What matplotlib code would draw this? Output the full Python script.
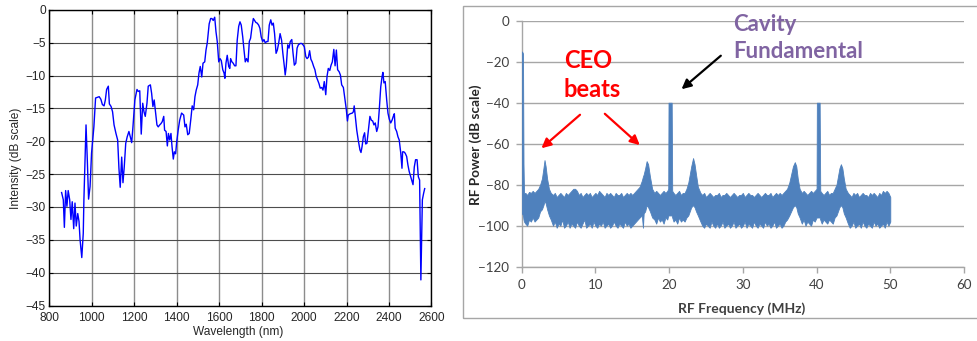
import matplotlib
matplotlib.use("Agg")
import matplotlib.pyplot as plt
from matplotlib.patches import Rectangle

# ---------------- optical spectrum (left) ----------------
wavelength_nm = [
    858, 866, 871, 877, 883, 889, 896, 902, 908, 915, 921, 927, 934, 940, 945,
    953, 960, 963, 973, 979, 985, 992, 999, 1010, 1018, 1027, 1035, 1043, 1050,
    1058, 1064, 1070, 1078, 1083, 1091, 1098, 1105, 1114, 1122, 1128, 1134, 1141,
    1147, 1153, 1160, 1167, 1175, 1183, 1188, 1194, 1203, 1213, 1219, 1226, 1233,
    1240, 1246, 1252, 1260, 1266, 1276, 1282, 1288, 1294, 1301, 1307, 1313, 1320,
    1326, 1332, 1339, 1343, 1350, 1356, 1361, 1367, 1373, 1378, 1384, 1389, 1395,
    1400, 1407, 1414, 1423, 1433, 1439, 1445, 1452, 1459, 1467, 1473, 1480, 1486,
    1492, 1499, 1505, 1511, 1518, 1524, 1532, 1538, 1544, 1553, 1560, 1566, 1572,
    1579, 1585, 1591, 1598, 1604, 1610, 1617, 1623, 1627, 1632, 1638, 1645, 1650,
    1654, 1660, 1666, 1673, 1679, 1685, 1692, 1698, 1704, 1711, 1717, 1723, 1729,
    1736, 1742, 1748, 1755, 1761, 1767, 1773, 1779, 1786, 1792, 1798, 1805, 1811,
    1817, 1824, 1830, 1836, 1843, 1849, 1855, 1861, 1868, 1874, 1880, 1887, 1894,
    1900, 1907, 1911, 1916, 1923, 1929, 1935, 1942, 1948, 1954, 1961, 1967, 1973,
    1982, 1989, 1995, 2001, 2008, 2014, 2020, 2026, 2032, 2038, 2045, 2051, 2057,
    2064, 2070, 2076, 2083, 2089, 2095, 2102, 2108, 2114, 2121, 2127, 2133, 2140,
    2146, 2152, 2158, 2165, 2171, 2177, 2185, 2193, 2199, 2204, 2208, 2217, 2227,
    2232, 2236, 2241, 2248, 2255, 2263, 2268, 2273, 2279, 2285, 2290, 2296, 2302,
    2310, 2317, 2323, 2329, 2335, 2342, 2348, 2354, 2361, 2367, 2371, 2376, 2382,
    2389, 2395, 2401, 2408, 2414, 2420, 2425, 2429, 2436, 2442, 2448, 2455, 2461,
    2464, 2470, 2476, 2483, 2489, 2495, 2502, 2508, 2513, 2519, 2525, 2532, 2538,
    2544, 2550, 2557, 2563, 2568,
]
intensity_db = [
    -27.8, -28.9, -33.1, -27.5, -29.9, -27.5, -28.9, -31.9, -29.2, -33.3, -29.4,
    -32.9, -31.0, -32.2, -35.0, -37.7, -34.0, -28.9, -17.5, -22.8, -28.8, -26.9,
    -21.8, -17.8, -13.4, -13.3, -13.2, -13.6, -14.4, -14.6, -13.7, -12.1, -11.6,
    -14.3, -14.7, -15.5, -17.5, -18.8, -19.8, -24.1, -27.0, -22.4, -26.3, -23.9,
    -20.3, -19.3, -18.5, -19.5, -20.2, -17.8, -13.7, -12.1, -12.4, -12.3, -18.9,
    -14.2, -15.5, -16.2, -14.2, -11.6, -11.4, -12.7, -14.7, -13.7, -15.7, -17.5,
    -17.8, -17.5, -17.3, -17.0, -16.2, -18.3, -18.5, -20.7, -18.8, -19.8, -18.8,
    -20.8, -22.7, -21.6, -21.9, -20.1, -18.3, -16.8, -15.7, -16.0, -17.8, -17.4,
    -19.0, -18.8, -16.5, -14.6, -15.2, -13.2, -12.2, -11.4, -9.6, -8.6, -10.2,
    -8.1, -7.9, -6.1, -5.0, -2.1, -1.3, -1.3, -1.6, -1.1, -3.3, -4.8, -7.9, -7.4,
    -7.7, -9.1, -9.6, -10.4, -8.1, -6.9, -8.6, -8.9, -7.4, -7.9, -8.1, -8.5, -8.5,
    -4.6, -2.5, -1.8, -2.3, -4.1, -6.1, -7.9, -7.4, -7.9, -4.8, -4.3, -2.5, -1.3,
    -1.6, -1.9, -2.0, -2.3, -2.8, -4.1, -4.8, -4.5, -5.0, -4.8, -4.8, -2.3, -1.5,
    -2.3, -2.0, -3.6, -6.6, -6.1, -5.1, -3.6, -4.6, -6.6, -8.6, -9.9, -8.6, -5.3,
    -5.8, -4.8, -4.5, -6.6, -8.4, -8.1, -5.8, -5.3, -5.1, -5.1, -5.3, -5.6, -7.1,
    -7.4, -7.2, -6.2, -7.5, -7.9, -8.6, -9.1, -10.1, -10.7, -11.2, -11.9, -11.8,
    -12.2, -10.9, -12.9, -10.1, -8.9, -9.2, -8.4, -7.9, -6.0, -8.5, -6.1, -9.1,
    -9.4, -9.9, -11.4, -11.8, -13.7, -15.2, -16.9, -16.0, -15.8, -15.7, -15.5,
    -14.6, -16.2, -18.3, -19.8, -21.3, -21.7, -20.8, -19.3, -18.7, -20.4, -20.3,
    -18.5, -16.2, -16.8, -16.9, -17.5, -17.2, -18.5, -17.8, -15.2, -11.7, -10.2,
    -9.5, -11.1, -10.9, -13.7, -15.7, -16.6, -17.2, -16.8, -16.2, -15.8, -18.0,
    -18.5, -19.3, -19.8, -21.7, -24.1, -21.6, -21.6, -21.8, -22.3, -23.6, -24.6,
    -25.4, -26.1, -26.6, -23.9, -22.8, -22.8, -25.4, -25.9, -41.1, -28.9, -27.9,
    -27.2,
]
wl_ticks = list(range(800, 2601, 200))
int_ticks = list(range(-45, 1, 5))

# ---------------- RF spectrum (right) ----------------
# frequency points with the upper and lower edge of the RF trace at each
rf_freq_mhz = [
    # DC spike
    0.00, 0.05, 0.18, 0.25, 0.32,
    0.5, 0.75, 1.0, 1.25, 1.5, 1.75, 2.0, 2.25,
    # CEO beat near 3 MHz
    2.5, 2.75, 2.95, 3.1, 3.25, 3.45, 3.7, 3.95,
    4.25, 4.5, 4.75, 5.0, 5.25, 5.5, 5.75, 6.0, 6.25, 6.5,
    6.75, 7.0, 7.25, 7.5, 7.75, 8.0, 8.25, 8.5, 8.75, 9.0,
    9.25, 9.5, 9.75, 10.0, 10.25, 10.5, 10.75, 11.0, 11.25, 11.5,
    11.75, 12.0, 12.25, 12.5, 12.75, 13.0, 13.25, 13.5, 13.75, 14.0,
    14.25, 14.5, 14.75, 15.0, 15.25, 15.5, 15.75,
    # CEO beat near 17 MHz
    16.0, 16.3, 16.45, 16.55, 16.75, 16.95, 17.15, 17.4, 17.7,
    18.0, 18.25, 18.5, 18.75, 19.0, 19.25, 19.5, 19.75,
    # cavity fundamental
    19.88, 19.92, 20.35, 20.42,
    20.6, 20.85, 21.1, 21.35, 21.6, 21.85, 22.1, 22.35,
    # CEO beat near 23 MHz
    22.6, 22.8, 23.0, 23.25, 23.45, 23.65, 23.9,
    24.25, 24.5, 24.75, 25.0, 25.25, 25.5, 25.75, 26.0, 26.25, 26.5,
    26.75, 27.0, 27.25, 27.5, 27.75, 28.0, 28.25, 28.5, 28.75, 29.0,
    29.25, 29.5, 29.75, 30.0, 30.25, 30.5, 30.75, 31.0, 31.25, 31.5,
    31.75, 32.0, 32.25, 32.5, 32.75, 33.0, 33.25, 33.5, 33.75, 34.0,
    34.25, 34.5, 34.75, 35.0, 35.25, 35.5, 35.75, 36.0,
    # CEO beat near 37 MHz
    36.3, 36.55, 36.8, 37.05, 37.25, 37.45, 37.7,
    38.0, 38.25, 38.5, 38.75, 39.0, 39.25, 39.5, 39.75,
    # second harmonic of the cavity
    40.0, 40.04, 40.42, 40.5,
    40.7, 40.95, 41.2, 41.45, 41.7, 41.95, 42.2, 42.45,
    # CEO beat near 43 MHz
    42.7, 42.9, 43.1, 43.3, 43.5, 43.7, 43.95,
    44.25, 44.5, 44.75, 45.0, 45.25, 45.5, 45.75, 46.0, 46.25, 46.5,
    46.75, 47.0, 47.25, 47.5, 47.75, 48.0, 48.25, 48.5, 48.75, 49.0,
    49.25, 49.5, 49.75, 50.0,
]
rf_upper_db = [
    -16, -15, -16, -70, -84,
    -84, -85, -83.5, -84, -83, -84, -83, -82,
    -80, -77, -72, -68, -71, -77, -82, -84,
    -85, -84, -86, -85, -84, -85, -86, -84, -85, -84,
    -83, -82, -82, -83, -85, -84, -86, -85, -84, -85,
    -84, -86, -85, -84, -85, -83, -84, -85, -86, -84,
    -85, -84, -85, -86, -84, -85, -85, -84, -86, -85,
    -84, -85, -84, -85, -84, -83, -82,
    -81, -78, -76, -75, -72, -68.5, -70, -76, -82,
    -84, -83, -84, -85, -84, -83, -84, -83,
    -82, -40, -40, -83,
    -84, -85, -84, -83, -85, -84, -84, -82,
    -79, -75, -71, -67, -70, -75, -81,
    -84, -85, -84, -86, -85, -84, -85, -86, -85, -85,
    -84, -86, -85, -85, -84, -85, -86, -85, -84, -85,
    -86, -85, -85, -84, -86, -85, -84, -85, -85, -86,
    -85, -84, -85, -86, -85, -84, -85, -85, -84, -86,
    -85, -84, -85, -84, -85, -84, -83, -82,
    -79, -75, -71, -69, -71, -77, -82,
    -84, -83, -84, -85, -84, -83, -84, -83,
    -82, -40, -40, -83,
    -84, -85, -84, -83, -85, -84, -84, -82,
    -80, -76, -72, -70, -72, -77, -82,
    -84, -85, -86, -84, -85, -84, -86, -85, -84, -85,
    -85, -86, -84, -85, -84, -85, -86, -84, -85, -83,
    -84, -83, -84, -86,
]
rf_lower_db = [
    -94, -94, -95, -97, -98,
    -99, -100, -97, -98, -96, -98, -97, -96,
    -93, -92, -90, -88, -89, -92, -95, -97,
    -100, -98, -101, -99, -100, -97, -101, -100, -98, -101,
    -99, -100, -101, -98, -100, -101, -99, -97, -101, -100,
    -99, -101, -98, -100, -101, -99, -100, -98, -101, -100,
    -99, -101, -100, -98, -100, -101, -99, -100, -101, -98,
    -100, -99, -101, -100, -99, -98, -97,
    -96, -95, -101, -94, -93, -90, -91, -93, -96,
    -97, -99, -96, -98, -97, -99, -96, -97,
    -95, -95, -95, -96,
    -98, -97, -99, -96, -98, -97, -98, -96,
    -95, -93, -91, -90, -91, -93, -95,
    -98, -100, -101, -99, -100, -101, -98, -100, -101, -99,
    -101, -100, -98, -101, -100, -99, -101, -100, -98, -101,
    -100, -99, -101, -100, -98, -101, -99, -100, -101, -98,
    -100, -101, -99, -100, -101, -98, -100, -99, -101, -100,
    -98, -101, -100, -99, -101, -100, -98, -97,
    -95, -93, -91, -90, -91, -94, -96,
    -99, -97, -100, -98, -99, -100, -97, -98,
    -96, -96, -96, -97,
    -99, -97, -98, -99, -97, -98, -99, -96,
    -95, -93, -91, -90, -91, -94, -96,
    -99, -101, -100, -98, -101, -100, -99, -101, -98, -100,
    -101, -99, -100, -101, -98, -100, -99, -101, -100, -99,
    -101, -98, -100, -98,
]
assert len(rf_freq_mhz) == len(rf_upper_db) == len(rf_lower_db)
rf_x_ticks = list(range(0, 61, 10))
rf_y_ticks = list(range(-120, 1, 20))

# ---------------- figure ----------------
fig = plt.figure(figsize=(9.78, 3.41), dpi=100)

# left: MATLAB-style plot
axl = fig.add_axes([0.0504, 0.1041, 0.3908, 0.8666])
axl.plot(wavelength_nm, intensity_db, color="#0000ff", lw=1.0, zorder=3)
axl.set_xlim(800, 2600)
axl.set_ylim(-45, 0)
axl.set_xticks(wl_ticks)
axl.set_yticks(int_ticks)
axl.tick_params(direction="in", top=True, right=True, length=3, width=0.8,
                labelsize=8.6, labelcolor="#262626")
axl.tick_params(axis="x", pad=4.5)
axl.tick_params(axis="y", pad=2.5)
for lab in axl.get_xticklabels() + axl.get_yticklabels():
    lab.set_family("Liberation Sans")
axl.yaxis.grid(True, color="#4d4d4d", lw=0.8)
axl.xaxis.grid(True, color="#8c8c8c", lw=1.0)
axl.set_axisbelow(True)
for s in axl.spines.values():
    s.set_linewidth(1.0)
    s.set_color("black")
axl.set_xlabel("Wavelength (nm)", fontsize=8.6, family="Liberation Sans",
               color="#262626", va="top")
axl.xaxis.set_label_coords(0.494, -0.069)
axl.set_ylabel("Intensity (dB scale)", fontsize=8.6, family="Liberation Sans",
               color="#262626")
axl.yaxis.set_label_coords(-0.072, 0.499)

# right: spreadsheet-style chart with frame
fig.add_artist(Rectangle((0.4734, 0.0674), 0.56, 0.915, transform=fig.transFigure,
                         fill=False, edgecolor="#a6a6a6", lw=1.0))
axr = fig.add_axes([0.5334, 0.2179, 0.4523, 0.7214])
axr.fill_between(rf_freq_mhz, rf_lower_db, rf_upper_db, color="#4f81bd",
                 lw=0.6, edgecolor="#4f81bd", zorder=3)
axr.set_xlim(0, 60)
axr.set_ylim(-120, 0)
axr.set_xticks(rf_x_ticks)
axr.set_yticks(rf_y_ticks)
axr.yaxis.grid(True, color="#a6a6a6", lw=1.0)
axr.set_axisbelow(True)
for side in ("top", "right"):
    axr.spines[side].set_visible(False)
for side in ("left", "bottom"):
    axr.spines[side].set_color("#a6a6a6")
    axr.spines[side].set_linewidth(1.0)
axr.tick_params(direction="out", length=4, width=1.0, color="#a6a6a6",
                labelsize=9.6, labelcolor="#404040", pad=5)
for lab in axr.get_xticklabels() + axr.get_yticklabels():
    lab.set_family("Lato")
axr.set_xlabel("RF Frequency (MHz)", fontsize=10, family="Lato",
               fontweight="bold", color="#404040", va="top")
axr.xaxis.set_label_coords(0.498, -0.143)
axr.set_ylabel("RF Power (dB scale)", fontsize=9.8, family="Lato",
               fontweight="bold", color="#262626")
axr.yaxis.set_label_coords(-0.09, 0.495)

# annotations
axr.text(5.7, -14.0, "CEO\nbeats", color="#ff0000", fontsize=17, family="Lato",
         fontweight="bold", va="top", ha="left", linespacing=1.3, clip_on=False)
axr.text(28.7, 3.2, "Cavity\nFundamental", color="#8064a2", fontsize=16,
         family="Lato", fontweight="bold", va="top", ha="left",
         linespacing=1.35, clip_on=False)
arrow_red = dict(arrowstyle="-|>", color="#ff0000", lw=1.6, mutation_scale=14)
axr.annotate("", xy=(2.4, -63.1), xytext=(8.2, -45.0), arrowprops=arrow_red)
axr.annotate("", xy=(16.3, -61.6), xytext=(11.0, -44.5), arrowprops=arrow_red)
axr.annotate("", xy=(21.4, -34.3), xytext=(27.3, -16.2),
             arrowprops=dict(arrowstyle="-|>", color="black", lw=1.6,
                             mutation_scale=14))

fig.savefig("out.png", dpi=100)
